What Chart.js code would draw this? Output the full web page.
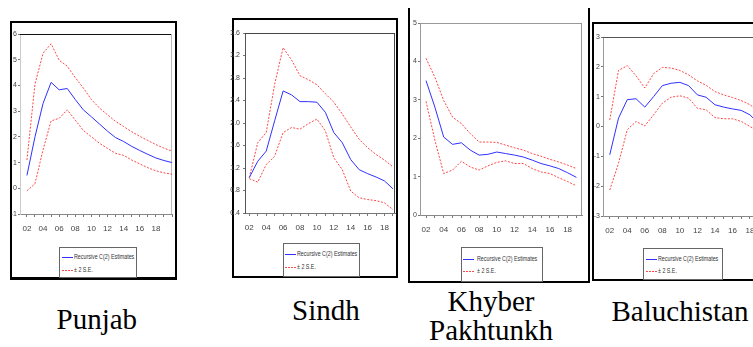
<!DOCTYPE html>
<html><head><meta charset="utf-8">
<script src="https://cdn.jsdelivr.net/npm/chart.js@4.4.1/dist/chart.umd.min.js"></script>
<style>
html,body{margin:0;padding:0;background:#fff;}
body{width:753px;height:347px;overflow:hidden;position:relative;}
.box{position:absolute;box-sizing:border-box;border-style:solid;border-color:#000;}
canvas{position:absolute;}
.lg{position:absolute;box-sizing:border-box;border:1px solid #666;background:#fff;z-index:3;}
.row{position:absolute;height:8px;white-space:nowrap;font:7px "Liberation Sans Narrow","Liberation Sans",Arial,sans-serif;color:#333;line-height:8px;}
.sw{position:absolute;left:0;top:4px;width:11px;height:1px;}
.txt{position:absolute;top:0;transform-origin:0 50%;display:inline-block;}
.name{position:absolute;font:29px "Liberation Serif","Times New Roman",serif;line-height:29px;white-space:nowrap;color:#000;}
</style></head>
<body>
<script>
// ---------- data ----------
const xTickLabels = ['02','04','06','08','10','12','14','16','18'];
const legendLabels = ['Recursive C(2) Estimates', '\u00b1 2 S.E.'];

const punjabYears = [2002,2003,2004,2005,2006,2007,2008,2009,2010,2011,2012,2013,2014,2015,2016,2017,2018,2019,2020];
const punjabEst   = [0.50,2.00,3.30,4.12,3.83,3.88,3.45,3.05,2.78,2.50,2.22,1.97,1.82,1.63,1.47,1.32,1.18,1.08,1.00];
const punjabUpper = [1.10,4.05,5.25,5.62,4.98,4.75,4.30,3.90,3.45,3.12,2.86,2.60,2.40,2.20,2.02,1.86,1.70,1.56,1.45];
const punjabLower = [-0.10,0.18,1.50,2.62,2.72,3.05,2.65,2.25,2.00,1.75,1.55,1.36,1.28,1.10,0.95,0.80,0.68,0.60,0.55];

const sindhYears = [2002,2003,2004,2005,2006,2007,2008,2009,2010,2011,2012,2013,2014,2015,2016,2017,2018,2019];
const sindhEst   = [1.03,1.32,1.50,2.04,2.57,2.50,2.38,2.38,2.37,2.19,1.83,1.65,1.35,1.17,1.10,1.04,0.97,0.83];
const sindhUpper = [1.03,1.65,1.83,2.69,3.34,3.12,2.84,2.77,2.68,2.52,2.37,2.16,1.93,1.71,1.56,1.44,1.34,1.22];
const sindhLower = [1.01,0.95,1.26,1.41,1.83,1.92,1.89,1.99,2.07,1.86,1.38,1.17,0.79,0.67,0.64,0.62,0.58,0.46];

const kpYears = [2002,2003,2004,2005,2006,2007,2008,2009,2010,2011,2012,2013,2014,2015,2016,2017,2018,2019];
const kpEst   = [3.50,2.81,2.03,1.84,1.88,1.69,1.56,1.58,1.64,1.60,1.56,1.51,1.43,1.34,1.28,1.21,1.10,0.98];
const kpUpper = [4.08,3.59,2.98,2.55,2.38,2.12,1.90,1.90,1.89,1.82,1.75,1.69,1.60,1.53,1.45,1.38,1.30,1.21];
const kpLower = [2.96,1.95,1.08,1.17,1.40,1.25,1.17,1.28,1.37,1.41,1.34,1.34,1.21,1.12,1.08,0.97,0.87,0.76];

const balYears = [2002,2003,2004,2005,2006,2007,2008,2009,2010,2011,2012,2013,2014,2015,2016,2017,2018,2019];
const balEst   = [-0.95,0.28,0.90,0.93,0.65,1.00,1.37,1.45,1.48,1.37,1.06,0.98,0.73,0.65,0.59,0.54,0.39,0.10];
const balUpper = [0.22,1.88,2.04,1.70,1.29,1.77,1.98,1.96,1.88,1.73,1.53,1.38,1.17,1.06,0.97,0.87,0.73,0.50];
const balLower = [-2.13,-1.23,-0.11,0.17,0.02,0.39,0.78,0.98,1.03,0.95,0.61,0.56,0.30,0.26,0.26,0.17,0.00,-0.17];

const panelNames = ['Punjab','Sindh',['Khyber','Pakhtunkh'],'Baluchistan'];

// ---------- layout ----------
const TICK_FONT = '"Liberation Sans Narrow","Liberation Sans",Arial,sans-serif';
const BLUE = '#3030ff', RED = 'rgba(255,40,40,0.85)';
function pts(xs, ys){ return xs.map((x,i)=>({x:x, y:ys[i]})); }

function addBox(l,t,w,h,bw){
  const d=document.createElement('div'); d.className='box';
  Object.assign(d.style,{left:l+'px',top:t+'px',width:w+'px',height:h+'px',borderWidth:bw});
  document.body.appendChild(d);
}
function addName(text, cx, top){
  const d=document.createElement('div'); d.className='name'; d.textContent=text;
  document.body.appendChild(d);
  d.style.top=top+'px'; d.style.left=(cx - d.offsetWidth/2)+'px';
}
function addLegend(l,t,w,h,r1,r2,swx,txx){
  const b=document.createElement('div'); b.className='lg';
  Object.assign(b.style,{left:l+'px',top:t+'px',width:w+'px',height:h+'px'});
  document.body.appendChild(b);
  const rows=[[r1,BLUE,legendLabels[0]],
              [r2,'repeating-linear-gradient(90deg,'+RED+' 0 2px,transparent 2px 3px)',legendLabels[1]]];
  let scale=1;
  rows.forEach((r,i)=>{
    const row=document.createElement('div'); row.className='row';
    row.style.top=(r[0]-4)+'px'; row.style.left=swx+'px';
    const sw=document.createElement('div'); sw.className='sw'; sw.style.background=r[1];
    const tx=document.createElement('span'); tx.className='txt'; tx.textContent=r[2];
    tx.style.left=(txx-swx)+'px';
    row.appendChild(sw); row.appendChild(tx); b.appendChild(row);
    if(i===0){ scale = 60/tx.offsetWidth; }
    tx.style.transform='scaleX('+scale+')';
  });
}

function makeChart(p){
  const yw=22, xh=26, padT=10, padR=6;
  const left=Math.round(p.L-yw), top=Math.round(p.T-padT);
  const w=Math.round(p.R+padR)-left, h=Math.round(p.B+xh)-top;
  const cv=document.createElement('canvas');
  cv.width=w; cv.height=h;
  Object.assign(cv.style,{left:left+'px',top:top+'px',width:w+'px',height:h+'px',zIndex:2});
  document.body.appendChild(cv);
  const frame={id:'frame',beforeDatasetsDraw(chart){
    const a=chart.chartArea, ctx=chart.ctx; ctx.save(); ctx.lineWidth=1;
    ctx.strokeStyle=p.topColor; ctx.beginPath(); ctx.moveTo(a.left,a.top+0.5); ctx.lineTo(a.right,a.top+0.5); ctx.stroke();
    ctx.strokeStyle=p.rightColor; ctx.beginPath(); ctx.moveTo(a.right-0.5,a.top); ctx.lineTo(a.right-0.5,a.bottom); ctx.stroke();
    ctx.restore();
  }};
  const ds=(data,color,dash)=>({data:data,borderColor:color,borderWidth:1,borderDash:dash,pointRadius:0,tension:0,fill:false});
  new Chart(cv,{
    type:'line',
    data:{datasets:[
      Object.assign(ds(pts(p.years,p.est),BLUE,[]),{label:legendLabels[0]}),
      Object.assign(ds(pts(p.years,p.up),RED,[2,1.5]),{label:legendLabels[1]}),
      Object.assign(ds(pts(p.years,p.lo),RED,[2,1.5]),{label:legendLabels[1]})
    ]},
    options:{
      responsive:false, animation:false, devicePixelRatio:1,
      layout:{padding:{top:padT,right:padR,left:0,bottom:0}},
      plugins:{legend:{display:false},tooltip:{enabled:false}},
      scales:{
        x:{type:'linear',min:p.xmin,max:p.xmax,
           afterFit:s=>{s.height=xh;},
           ticks:{stepSize:1,autoSkip:false,includeBounds:false,maxRotation:0,minRotation:0,padding:7,
                  font:{family:TICK_FONT,size:8},color:'#444',
                  callback:v=>{const r=Math.round(v); if(r%2===0&&r>=2002&&r<=2018) return xTickLabels[(r-2002)/2]; return '';}},
           grid:{drawOnChartArea:false,drawTicks:true,tickLength:3,color:'#777'},
           border:{display:true,color:p.bottomColor}},
        y:{min:p.ymin,max:p.ymax,
           afterFit:s=>{s.width=yw;},
           ticks:{stepSize:p.ystep,includeBounds:false,padding:p.ypad,font:{family:TICK_FONT,size:7},color:'#444',
                  callback:v=>p.ydec?(+v).toFixed(p.ydec):String(Math.round(v))},
           grid:{drawOnChartArea:false,drawTicks:true,tickLength:2,color:'#777'},
           border:{display:true,color:p.leftColor}}
      }
    },
    plugins:[frame]
  });
}

// outer boxes
addBox(10,21,167,259,'2px 2px 3px 2px');
addBox(232,18,166,260,'2px');
addBox(408,8,182,275,'0 2.5px 2.5px 2.5px');
addBox(592,22,200,259,'2px 0 2px 2px');

makeChart({L:20,T:34,R:173,B:214,xmin:2001.14,xmax:2020,ymin:-1,ymax:6,ystep:1,ydec:0,ypad:1,
  years:punjabYears,est:punjabEst,up:punjabUpper,lo:punjabLower,
  topColor:'#111',rightColor:'#bbb',leftColor:'#ccc',bottomColor:'#888'});
makeChart({L:245,T:33,R:395,B:213,xmin:2001.49,xmax:2019.24,ymin:0.4,ymax:3.6,ystep:0.4,ydec:1,ypad:3,
  years:sindhYears,est:sindhEst,up:sindhUpper,lo:sindhLower,
  topColor:'#444',rightColor:'#444',leftColor:'#555',bottomColor:'#777'});
makeChart({L:420,T:23,R:582,B:215,xmin:2001.32,xmax:2019.63,ymin:0,ymax:5,ystep:1,ydec:0,ypad:1,
  years:kpYears,est:kpEst,up:kpUpper,lo:kpLower,
  topColor:'#999',rightColor:'#999',leftColor:'#999',bottomColor:'#888'});
makeChart({L:603,T:37,R:764,B:216,xmin:2001.23,xmax:2019.6,ymin:-3,ymax:3,ystep:1,ydec:0,ypad:1,
  years:balYears,est:balEst,up:balUpper,lo:balLower,
  topColor:'#555',rightColor:'#999',leftColor:'#999',bottomColor:'#888'});

// legends (left, top, width, height, row1 y, row2 y, swatch x, text x)
addLegend(59,247,78,31,9,22,2,14);
addLegend(283,243,77,34,10,23,1,13);
addLegend(461,247,82,35,11,23,1,15);
addLegend(643,248,80,32,10,22,2,14);

// panel names
addName(panelNames[0],97,305);
addName(panelNames[1],326,296);
addName(panelNames[2][0],491,287);
addName(panelNames[2][1],491,316);
addName(panelNames[3],680,297);
</script>
</body></html>
